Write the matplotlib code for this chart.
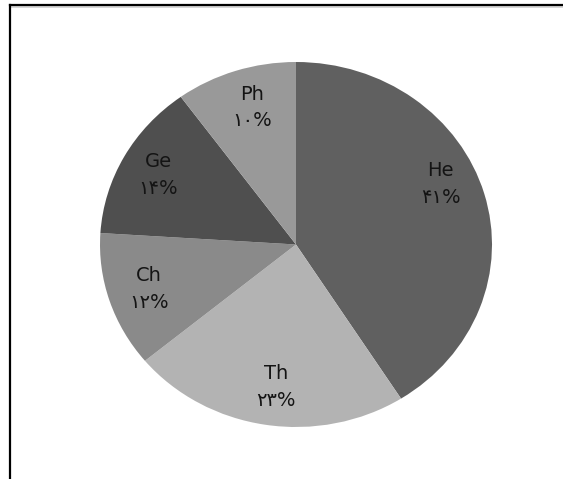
import matplotlib
matplotlib.use("Agg")
import matplotlib.pyplot as plt
from matplotlib.lines import Line2D

# slice data, clockwise from 12 o'clock
names = ["He", "Th", "Ch", "Ge", "Ph"]
shares = [41, 23, 12, 14, 10]
colors = ["#606060", "#b3b3b3", "#8a8a8a", "#4f4f4f", "#999999"]

# Excel nudged the He label upward a bit
label_nudge = [(-0.02, 0.11), (0.02, 0), (0, 0), (-0.01, 0), (0.02, 0)]

persian = str.maketrans("0123456789", "۰۱۲۳۴۵۶۷۸۹")
labels = [f"{n}\n{str(v).translate(persian)}%" for n, v in zip(names, shares)]

plt.rcParams['font.family'] = ['DejaVu Sans', 'Noto Sans']

fig = plt.figure(figsize=(5.63, 4.79), dpi=100)
W, H = 563, 479
# pie is slightly squashed vertically in the reference
ax = fig.add_axes([100 / W, 52 / H, 392 / W, 365 / H])

wedges, texts = ax.pie(shares, labels=labels, colors=colors, startangle=90,
                       counterclock=False, labeldistance=0.79,
                       wedgeprops=dict(linewidth=0),
                       textprops=dict(fontsize=14, color="#141414",
                                      ha="center", va="center",
                                      linespacing=1.5))
for t, (dx, dy) in zip(texts, label_nudge):
    x, y = t.get_position()
    t.set_position((x + dx, y + dy))
    t.set_horizontalalignment("center")

ax.set_aspect("auto")
ax.set_xlim(-1, 1)
ax.set_ylim(-1, 1)
ax.axis("off")

# frame lines (top and left only, as in the screenshot)
fig.add_artist(Line2D([10 / W, 1], [1 - 7 / H, 1 - 7 / H], color="#d0d0d0", lw=1.2))
fig.add_artist(Line2D([10 / W, 1], [1 - 5 / H, 1 - 5 / H], color="black", lw=1.6))
fig.add_artist(Line2D([10 / W, 10 / W], [0, 1 - 5 / H], color="black", lw=1.6))

fig.savefig("out.png", dpi=100, facecolor="white")
